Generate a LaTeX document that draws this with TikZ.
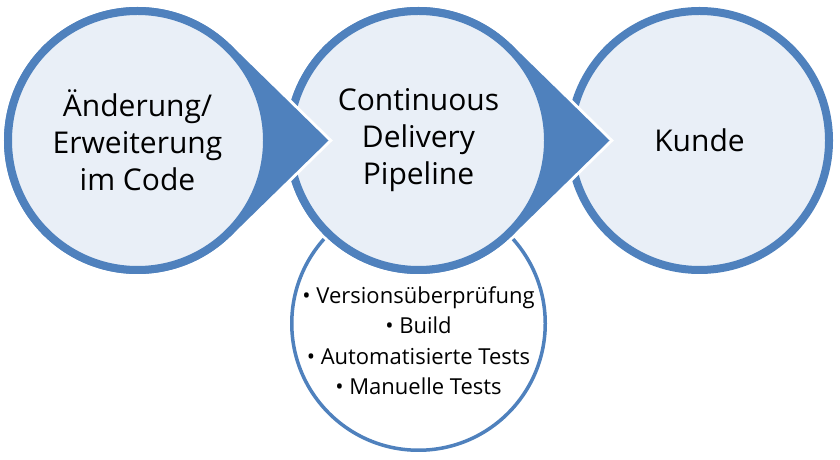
\documentclass[tikz,border=0pt]{standalone}
\usepackage{fontspec}
\setmainfont{Open Sans}
\usetikzlibrary{positioning}
\definecolor{stageblue}{HTML}{4F81BD}
\definecolor{stagefill}{HTML}{E9EFF7}

\begin{document}
\begin{tikzpicture}[x=1pt, y=1pt,
        stage/.style={circle, draw=stageblue, fill=stagefill, line width=8pt,
            minimum size=259pt, inner sep=0pt, align=center,
            font=\fontsize{30}{37}\selectfont},
        pointer/.style={fill=stageblue, preaction={draw=white, line width=6pt}},
        tasks/.style={circle, draw=stageblue, fill=white, line width=3.5pt,
            minimum size=253.5pt, inner sep=0pt},
        tasklist/.style={align=center, font=\fontsize{22}{30.5}\selectfont}]
        \useasboundingbox (0,0) rectangle (840,460);

        % Centres
        \coordinate (p1) at (137.5,319.5);
        \coordinate (p2) at (418.5,319.5);
        \coordinate (p3) at (699.5,319.5);

        % Steps of the pipeline
        \node[tasks] (checks) at (418.5,136.5) {};
        \node[tasklist] (checklist) at ([yshift=-17pt]checks.center)
            {\textbullet\ Versionsüberprüfung\\ \textbullet\ Build\\
             \textbullet\ Automatisierte Tests\\ \textbullet\ Manuelle Tests};

        % Stages
        \node[stage] (kunde) at (p3) {Kunde};

        \fill[pointer] (p2) ++(45.6:133.5) arc[start angle=45.6, end angle=314.4, radius=133.5]
            -- ([xshift=191pt]p2) -- cycle;
        \node[stage] (pipeline) at (p2) {Continuous\\ Delivery\\ Pipeline};

        \fill[pointer] (p1) ++(45.6:133.5) arc[start angle=45.6, end angle=314.4, radius=133.5]
            -- ([xshift=191pt]p1) -- cycle;
        \node[stage] (code) at (p1) {Änderung/\\ Erweiterung\\ im Code};
    \end{tikzpicture}
\end{document}
